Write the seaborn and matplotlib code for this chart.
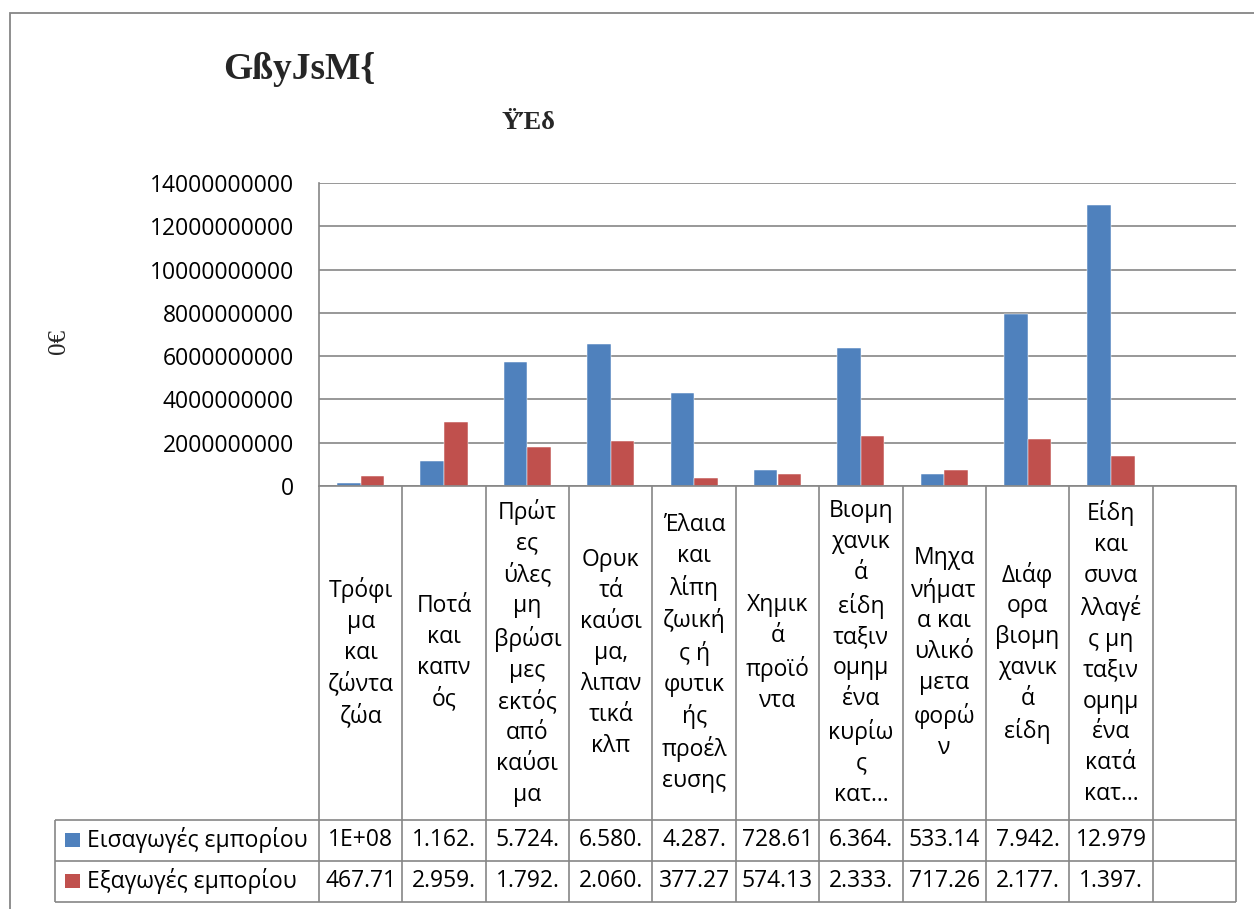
import numpy as np
import pandas as pd
import matplotlib
matplotlib.use("Agg")
import matplotlib.pyplot as plt
import seaborn as sns
from matplotlib.transforms import blended_transform_factory
from matplotlib.patches import Rectangle

# ---------------- data ----------------
categories = [
    "Τρόφι\nμα\nκαι\nζώντα\nζώα",
    "Ποτά\nκαι\nκαπν\nός",
    "Πρώτ\nες\nύλες\nμη\nβρώσι\nμες\nεκτός\nαπό\nκαύσι\nμα",
    "Ορυκ\nτά\nκαύσι\nμα,\nλιπαν\nτικά\nκλπ",
    "Έλαια\nκαι\nλίπη\nζωική\nς ή\nφυτικ\nής\nπροέλ\nευσης",
    "Χημικ\nά\nπροϊό\nντα",
    "Βιομη\nχανικ\nά\nείδη\nταξιν\nομημ\nένα\nκυρίω\nς\nκατ…",
    "Μηχα\nνήματ\nα και\nυλικό\nμετα\nφορώ\nν",
    "Διάφ\nορα\nβιομη\nχανικ\nά\nείδη",
    "Είδη\nκαι\nσυνα\nλλαγέ\nς μη\nταξιν\nομημ\nένα\nκατά\nκατ…",
]
series_names = ["Εισαγωγές εμπορίου", "Εξαγωγές εμπορίου"]
imports = [130e6, 1162e6, 5724e6, 6580e6, 4287e6, 728.61e6, 6364e6, 533.14e6, 7942e6, 12979e6]
exports = [467.71e6, 2959e6, 1792e6, 2060e6, 377.27e6, 574.13e6, 2333e6, 717.26e6, 2177e6, 1397e6]
imports_text = ["1E+08", "1.162.", "5.724.", "6.580.", "4.287.", "728.61", "6.364.", "533.14", "7.942.", "12.979"]
exports_text = ["467.71", "2.959.", "1.792.", "2.060.", "377.27", "574.13", "2.333.", "717.26", "2.177.", "1.397."]
y_ticks = [0, 2e9, 4e9, 6e9, 8e9, 10e9, 12e9, 14e9]
colors = ["#4F81BD", "#C0504D"]

# ---------------- style ----------------
sns.set_theme(style="white")
plt.rcParams["font.family"] = ["Open Sans", "DejaVu Sans"]
GRID = "#868686"
FS = 16.5

df = pd.DataFrame({
    "category": categories * 2,
    "series": [series_names[0]] * len(categories) + [series_names[1]] * len(categories),
    "value": imports + exports,
})

W, H = 1254, 909
fig = plt.figure(figsize=(W / 100, H / 100), dpi=100)
ax = fig.add_axes([319 / W, 1 - 486 / H, (1236 - 319) / W, (486 - 183) / H])

sns.barplot(data=df, x="category", y="value", hue="series", order=categories,
            hue_order=series_names, palette=colors, saturation=1, width=0.565,
            edgecolor="white", linewidth=0.35, legend=False, ax=ax)

n = len(categories)
ax.set_xlim(-0.5, n + 0.5)
ax.set_ylim(0, 14e9)
ax.set_yticks(y_ticks)
ax.set_yticklabels([f"{int(v)}" for v in y_ticks])
ax.tick_params(axis="y", length=0, pad=18, labelsize=FS, labelcolor="black")
ax.set_xticks([])
ax.set_xlabel("")
ax.set_ylabel("")
ax.yaxis.grid(True, color=GRID, linewidth=1.2)
ax.set_axisbelow(True)
for s in ["top", "right"]:
    ax.spines[s].set_visible(False)
for s in ["left", "bottom"]:
    ax.spines[s].set_color(GRID)
    ax.spines[s].set_linewidth(1.2)

# ---------------- data table ----------------
trans = blended_transform_factory(ax.transData, ax.transAxes)
ah = 486 - 183
y0 = 0.0
y1 = -(820 - 486) / ah
y2 = -(861 - 486) / ah
y3 = -(902 - 486) / ah
slot = (1236 - 319) / (n + 1)
xl = -0.5 - (319 - 55) / slot

lk = dict(color=GRID, linewidth=1.2, transform=trans, clip_on=False, solid_capstyle="butt")
for k in range(n + 2):
    ax.plot([k - 0.5, k - 0.5], [y0, y3], **lk)
for yy in (y1, y2, y3):
    ax.plot([xl, n + 0.5], [yy, yy], **lk)
ax.plot([xl, xl], [y1, y3], **lk)

for i, c in enumerate(categories):
    ax.text(i, (y0 + y1) / 2, c, transform=trans, ha="center", va="center",
            multialignment="center", fontsize=FS, linespacing=1.38, color="black")
for i, t in enumerate(imports_text):
    ax.text(i, (y1 + y2) / 2, t, transform=trans, ha="center", va="center",
            fontsize=FS, color="black")
for i, t in enumerate(exports_text):
    ax.text(i, (y2 + y3) / 2, t, transform=trans, ha="center", va="center",
            fontsize=FS, color="black")

sq_w = 15 / slot
sq_h = 14 / ah
x_sq = -0.5 - (319 - 65) / slot
x_tx = -0.5 - (319 - 87) / slot
for yc, name, col in [((y1 + y2) / 2, series_names[0], colors[0]),
                      ((y2 + y3) / 2, series_names[1], colors[1])]:
    ax.add_patch(Rectangle((x_sq, yc - sq_h / 2), sq_w, sq_h, transform=trans,
                           facecolor=col, edgecolor="none", clip_on=False))
    ax.text(x_tx, yc, name, transform=trans, ha="left", va="center",
            fontsize=FS, color="black")

# ---------------- chart frame ----------------
fig.patches.append(Rectangle((9.5 / W, -0.05), 1.2, 1 - 12.5 / H + 0.05,
                             transform=fig.transFigure, fill=False,
                             edgecolor=GRID, linewidth=1.3))

# ---------------- garbled title / axis title (as rendered in the source) ----------------
serif = ["Liberation Serif", "DejaVu Serif"]
fig.text(223 / W, 1 - 79 / H, "GßyJsM{", fontsize=27, family=serif, weight="bold",
         va="baseline", ha="left")
fig.text(502 / W, 1 - 129 / H, "ΫΈδ", fontsize=19, family=serif, weight="bold",
         va="baseline", ha="left")
fig.text(59 / W, 1 - 342 / H, "0€", fontsize=18, family=serif, rotation=90,
         va="center", ha="center")

fig.savefig("out.png", dpi=100)
